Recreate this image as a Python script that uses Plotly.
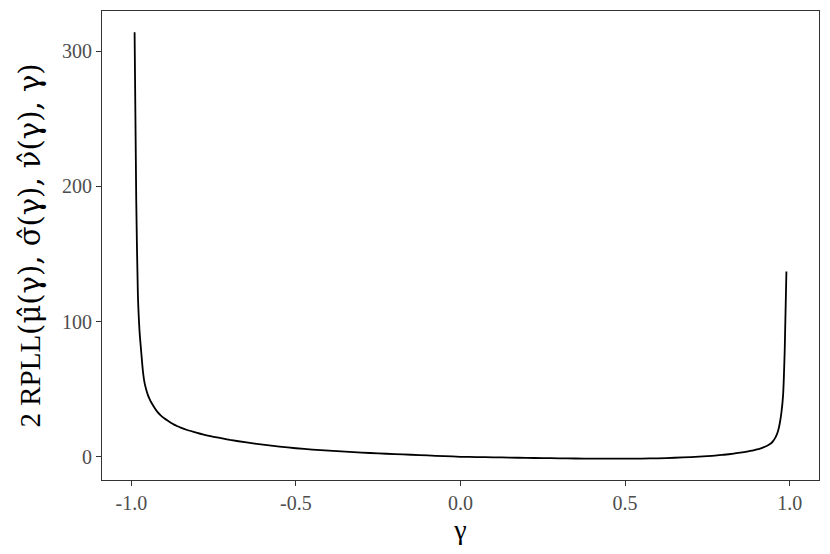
import plotly.graph_objects as go

gamma = [-0.99, -0.985, -0.98, -0.975, -0.97, -0.965, -0.96, -0.955, -0.95, -0.945,
         -0.94, -0.93, -0.92, -0.91, -0.90, -0.89, -0.88, -0.87, -0.86, -0.85,
         -0.83, -0.80, -0.78, -0.75, -0.72, -0.70, -0.65, -0.60, -0.55, -0.50,
         -0.45, -0.40, -0.35, -0.30, -0.25, -0.20, -0.15, -0.10, -0.05, 0.00,
         0.05, 0.10, 0.15, 0.20, 0.25, 0.30, 0.35, 0.40, 0.45, 0.50,
         0.55, 0.60, 0.65, 0.70, 0.75, 0.78, 0.80, 0.83, 0.85, 0.87,
         0.88, 0.89, 0.90, 0.91, 0.92, 0.93, 0.94, 0.945, 0.95, 0.955,
         0.96, 0.965, 0.97, 0.975, 0.98, 0.985, 0.99]
rpll = [314, 190, 120, 93, 78, 64, 55, 50, 46, 43,
        40.5, 36.5, 33, 30.5, 28.5, 26.8, 25.2, 23.8, 22.6, 21.6,
        19.8, 17.7, 16.4, 14.8, 13.4, 12.5, 10.6, 9.0, 7.6, 6.3,
        5.3, 4.5, 3.8, 3.1, 2.5, 2.0, 1.5, 1.0, 0.5, 0.0,
        -0.2, -0.4, -0.6, -0.8, -1.0, -1.1, -1.25, -1.35, -1.4, -1.4,
        -1.3, -1.1, -0.7, -0.2, 0.5, 1.0, 1.5, 2.3, 3.0, 3.8,
        4.3, 4.8, 5.4, 6.1, 7.0, 8.0, 9.4, 10.4, 11.8, 13.6,
        16, 19.5, 25, 33, 46, 80, 137]

x_ticks = [-1.0, -0.5, 0.0, 0.5, 1.0]
x_tick_labels = ["-1.0", "-0.5", "0.0", "0.5", "1.0"]
y_ticks = [0, 100, 200, 300]
y_tick_labels = ["0", "100", "200", "300"]

fig = go.Figure()
fig.add_trace(go.Scatter(x=gamma, y=rpll, mode="lines",
                         line=dict(color="black", width=1.8, shape="spline", smoothing=0.6),
                         showlegend=False, hoverinfo="skip"))

font_family = "Liberation Serif"
axis_common = dict(showgrid=False, zeroline=False, showline=True, mirror=True,
                   linecolor="#333333", linewidth=1, ticks="outside",
                   ticklen=5, tickwidth=1, tickcolor="#333333", automargin=False,
                   tickfont=dict(family=font_family, size=20, color="#4d4d4d"))

xmin, xmax = min(gamma), max(gamma)
ymin, ymax = min(rpll), max(rpll)
xpad = 0.05 * (xmax - xmin)
ypad = 0.05 * (ymax - ymin)


def hat(ch):
    return ch + '\u0302'


y_title = ("2 RPLL" + '<span style="font-family:DejaVu Serif;font-size:29px">(' + hat("μ") + "(γ), "
           + hat("σ") + "(γ), " + hat("ν") + "(γ), γ)</span>")

fig.update_xaxes(range=[xmin - xpad, xmax + xpad], tickvals=x_ticks,
                 ticktext=x_tick_labels,
                 title=dict(text="γ", font=dict(family=font_family, size=28, color="black"),
                            standoff=4),
                 **axis_common)
fig.update_yaxes(range=[ymin - ypad, ymax + ypad], tickvals=y_ticks,
                 ticktext=y_tick_labels,
                 title=dict(text=y_title,
                            font=dict(family=font_family, size=29, color="black"),
                            standoff=12),
                 **axis_common)

fig.update_layout(width=830, height=554,
                  margin=dict(l=102, r=11, t=11, b=74),
                  plot_bgcolor="white", paper_bgcolor="white",
                  font=dict(family=font_family))

fig.write_html("out.html", config={"displayModeBar": False},
               post_script="document.body.style.margin='0';document.body.style.overflow='hidden';")
